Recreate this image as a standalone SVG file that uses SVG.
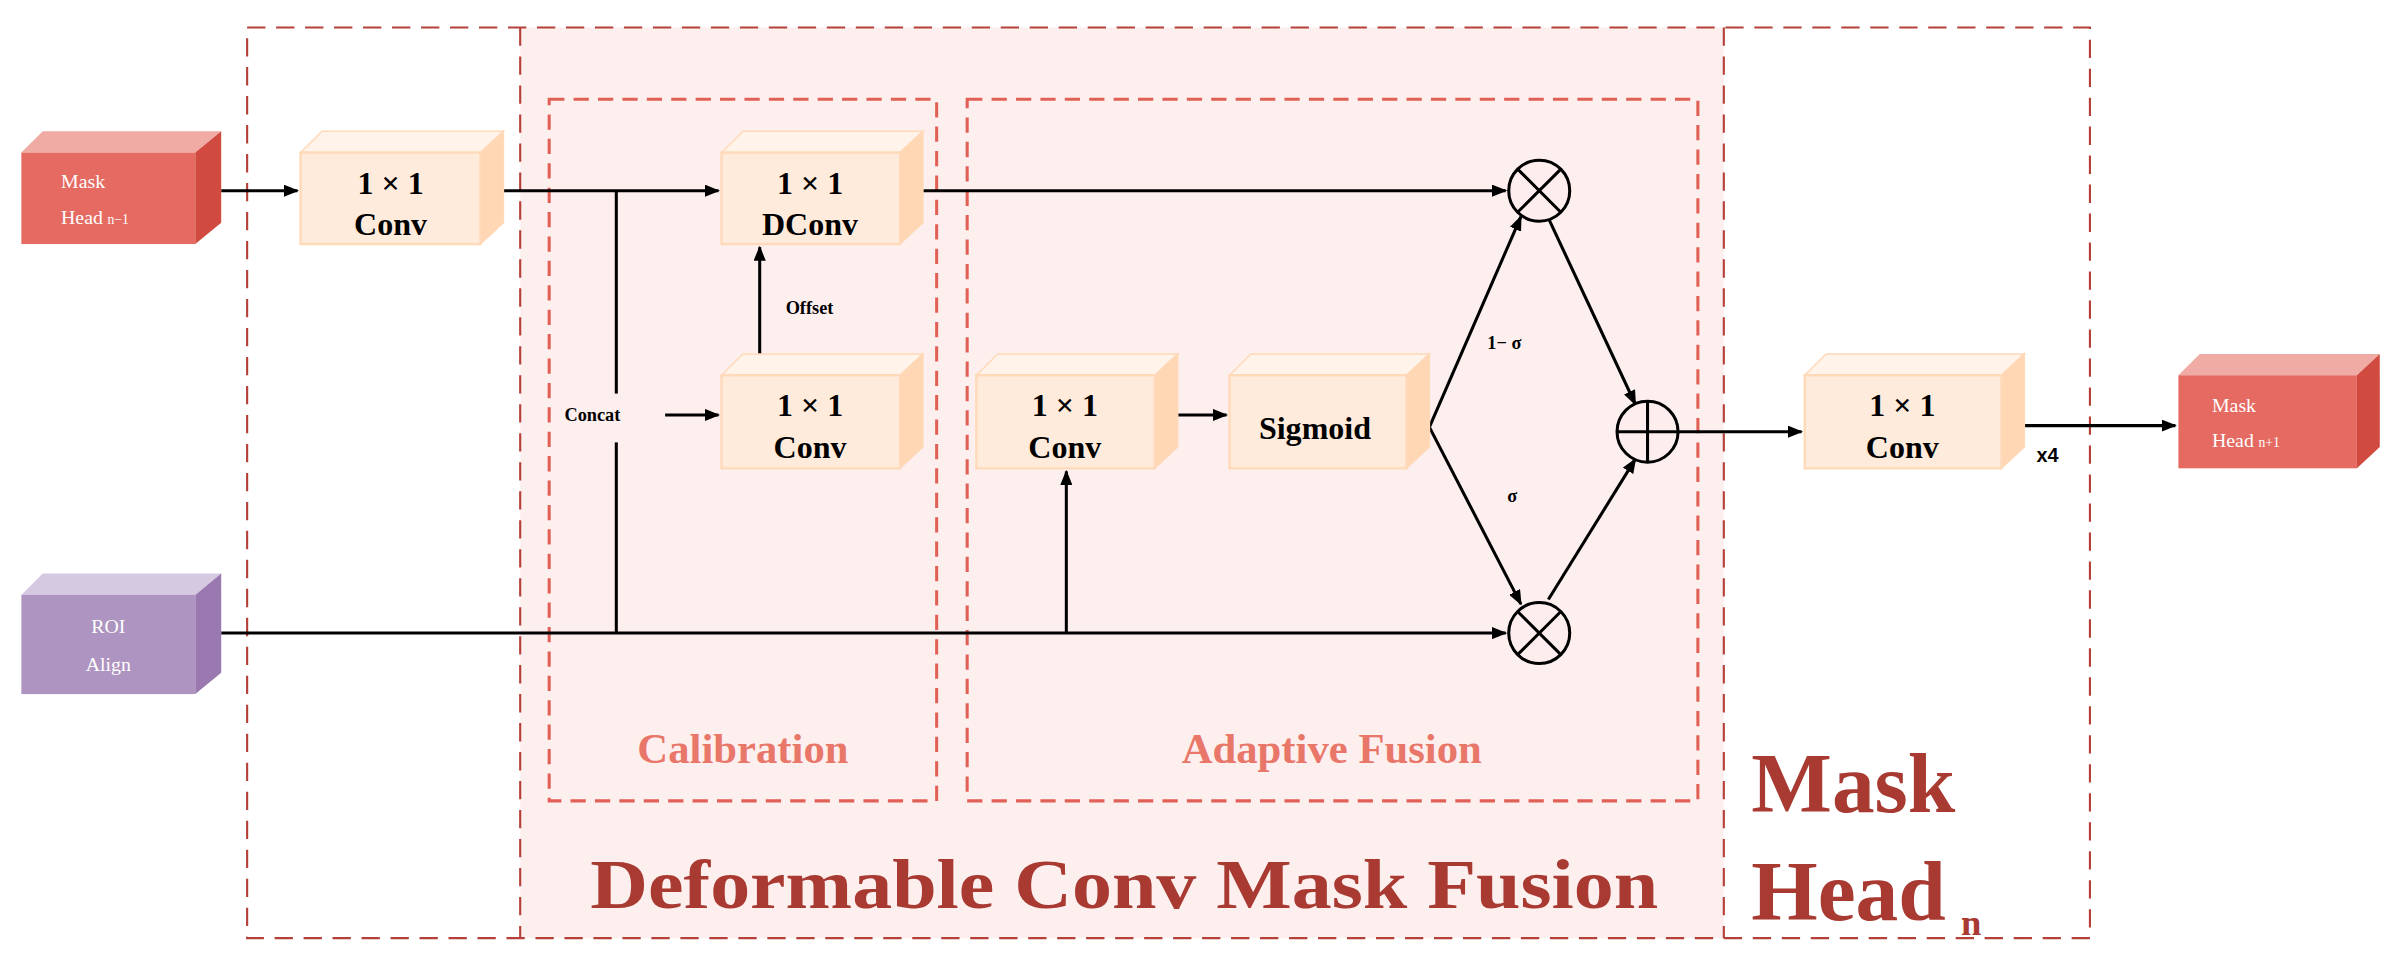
<svg xmlns="http://www.w3.org/2000/svg" width="2392" height="969" viewBox="0 0 2392 969">
<style>
.cf{fill:#FFEBDB;stroke:#FFD9B8;stroke-width:1.5}
.ct{fill:#FFF3EA;stroke:#FFD9B8;stroke-width:1}
.cr{fill:#FFD7B5;stroke:#FFD9B8;stroke-width:1}
.mf{fill:#E46A62}.mt{fill:#F0ABA5}.mr{fill:#D04A3F}
.rf{fill:#AE94C0}.rt{fill:#D5C8E1}.rr{fill:#9A78B0}
.bt{font-family:"Liberation Serif",serif;font-weight:bold;font-size:21px;fill:#000;text-anchor:middle}
.wt{font-family:"Liberation Serif",serif;font-size:13px;fill:#fff}
.sm{font-family:"Liberation Serif",serif;font-weight:bold;font-size:12px;fill:#000}
.od{fill:none;stroke:#B5403A;stroke-width:1.4;stroke-dasharray:12 7}
.id{fill:none;stroke:#E06055;stroke-width:2;stroke-dasharray:10 6}
.ln{fill:none;stroke:#000;stroke-width:2}
.cir{fill:#FDEDED;stroke:#000;stroke-width:2}
</style>
<defs>
<marker id="ah" markerWidth="10" markerHeight="8" refX="9" refY="4" orient="auto" markerUnits="userSpaceOnUse"><path d="M0,0 L10,4 L0,8 Z" fill="#000"/></marker>
</defs>
<g transform="scale(1.5255)">
<rect x="0" y="0" width="1568" height="636" fill="#fff"/>
<rect x="341" y="18" width="789" height="597" fill="#FEEFEF"/>
<g id="frames">
<rect class="od" x="162" y="18" width="1208" height="597"/>
<line class="od" x1="341" y1="18" x2="341" y2="615"/>
<line class="od" x1="1130" y1="18" x2="1130" y2="615"/>
<rect class="id" x="360" y="65" width="254" height="460"/>
<rect class="id" x="634" y="65" width="479" height="460"/>
<text x="487" y="500" text-anchor="middle" font-family="Liberation Serif,serif" font-weight="bold" font-size="28" fill="#E8776A">Calibration</text>
<text x="873" y="500" text-anchor="middle" font-family="Liberation Serif,serif" font-weight="bold" font-size="28" fill="#E8776A">Adaptive Fusion</text>
<text x="387" y="595" textLength="700" lengthAdjust="spacingAndGlyphs" font-family="Liberation Serif,serif" font-weight="bold" font-size="46" fill="#A83A32">Deformable Conv Mask Fusion</text>
<text x="1148" y="532" font-family="Liberation Serif,serif" font-weight="bold" font-size="56" fill="#A83A32">Mask</text>
<text x="1148" y="603" font-family="Liberation Serif,serif" font-weight="bold" font-size="56" fill="#A83A32">Head<tspan font-size="24" dx="10" dy="10">n</tspan></text>
</g>
<g id="connectors">
<line class="ln" x1="145" y1="125" x2="195" y2="125" marker-end="url(#ah)"/>
<line class="ln" x1="330" y1="125" x2="471" y2="125" marker-end="url(#ah)"/>
<line class="ln" x1="605" y1="125" x2="987" y2="125" marker-end="url(#ah)"/>
<line class="ln" x1="404" y1="125" x2="404" y2="258"/>
<line class="ln" x1="404" y1="290" x2="404" y2="415"/>
<line class="ln" x1="145" y1="415" x2="987" y2="415" marker-end="url(#ah)"/>
<line class="ln" x1="699" y1="415" x2="699" y2="309" marker-end="url(#ah)"/>
<line class="ln" x1="436" y1="272" x2="471" y2="272" marker-end="url(#ah)"/>
<line class="ln" x1="498" y1="232" x2="498" y2="162" marker-end="url(#ah)"/>
<line class="ln" x1="772" y1="272" x2="804" y2="272" marker-end="url(#ah)"/>
<line class="ln" x1="937" y1="280" x2="997" y2="142" marker-end="url(#ah)"/>
<line class="ln" x1="937" y1="280" x2="997" y2="396" marker-end="url(#ah)"/>
<line class="ln" x1="1015" y1="143" x2="1072" y2="265" marker-end="url(#ah)"/>
<line class="ln" x1="1015" y1="393" x2="1072" y2="301" marker-end="url(#ah)"/>
<line class="ln" x1="1100" y1="283" x2="1181" y2="283" marker-end="url(#ah)"/>
<line class="ln" x1="1327" y1="279" x2="1426" y2="279" marker-end="url(#ah)"/>
<text class="sm" x="370" y="276">Concat</text>
<text class="sm" x="515" y="206">Offset</text>
<text class="sm" x="975" y="229">1− σ</text>
<text class="sm" x="988" y="329">σ</text>
<text x="1335" y="303" font-family="Liberation Sans,sans-serif" font-weight="bold" font-size="13" fill="#000">x4</text>
</g>
<g id="maskhead_prev">
<polygon class="mt" points="14,100 28,86 145,86 128,100"/>
<polygon class="mr" points="128,100 145,86 145,146 128,160"/>
<rect class="mf" x="14" y="100" width="114" height="60"/>
<text class="wt" x="40" y="123">Mask</text>
<text class="wt" x="40" y="147">Head<tspan font-size="9" dx="3">n−1</tspan></text>
</g>
<g id="roi">
<polygon class="rt" points="14,390 28,376 145,376 128,390"/>
<polygon class="rr" points="128,390 145,376 145,441 128,455"/>
<rect class="rf" x="14" y="390" width="114" height="65"/>
<text class="wt" x="71" y="415" text-anchor="middle">ROI</text>
<text class="wt" x="71" y="440" text-anchor="middle">Align</text>
</g>
<g id="conv1">
<polygon class="ct" points="197,100 211,86 330,86 315,100"/>
<polygon class="cr" points="315,100 330,86 330,146 315,160"/>
<rect class="cf" x="197" y="100" width="118" height="60"/>
<text class="bt" x="256" y="127">1 × 1</text><text class="bt" x="256" y="154">Conv</text>
</g>
<g id="dconv">
<polygon class="ct" points="473,100 487,86 605,86 590,100"/>
<polygon class="cr" points="590,100 605,86 605,146 590,160"/>
<rect class="cf" x="473" y="100" width="117" height="60"/>
<text class="bt" x="531" y="127">1 × 1</text><text class="bt" x="531" y="154">DConv</text>
</g>
<g id="conv2">
<polygon class="ct" points="473,246 487,232 605,232 590,246"/>
<polygon class="cr" points="590,246 605,232 605,293 590,307"/>
<rect class="cf" x="473" y="246" width="117" height="61"/>
<text class="bt" x="531" y="273">1 × 1</text><text class="bt" x="531" y="300">Conv</text>
</g>
<g id="conv3">
<polygon class="ct" points="640,246 654,232 772,232 757,246"/>
<polygon class="cr" points="757,246 772,232 772,293 757,307"/>
<rect class="cf" x="640" y="246" width="117" height="61"/>
<text class="bt" x="698" y="273">1 × 1</text><text class="bt" x="698" y="300">Conv</text>
</g>
<g id="sigmoid">
<polygon class="ct" points="806,246 820,232 937,232 922,246"/>
<polygon class="cr" points="922,246 937,232 937,293 922,307"/>
<rect class="cf" x="806" y="246" width="116" height="61"/>
<text class="bt" x="862" y="288">Sigmoid</text>
</g>
<g id="mul_top"><circle class="cir" cx="1009" cy="125" r="20"/><path class="ln" d="M995,111 L1023,139 M1023,111 L995,139"/></g>
<g id="mul_bot"><circle class="cir" cx="1009" cy="415" r="20"/><path class="ln" d="M995,401 L1023,429 M1023,401 L995,429"/></g>
<g id="add"><circle class="cir" cx="1080" cy="283" r="20"/><path class="ln" d="M1060,283 L1100,283 M1080,263 L1080,303"/></g>
<g id="conv4">
<polygon class="ct" points="1183,246 1197,232 1327,232 1312,246"/>
<polygon class="cr" points="1312,246 1327,232 1327,293 1312,307"/>
<rect class="cf" x="1183" y="246" width="129" height="61"/>
<text class="bt" x="1247" y="273">1 × 1</text><text class="bt" x="1247" y="300">Conv</text>
</g>
<g id="maskhead_next">
<polygon class="mt" points="1428,246 1442,232 1560,232 1545,246"/>
<polygon class="mr" points="1545,246 1560,232 1560,293 1545,307"/>
<rect class="mf" x="1428" y="246" width="117" height="61"/>
<text class="wt" x="1450" y="270">Mask</text>
<text class="wt" x="1450" y="293">Head<tspan font-size="9" dx="3">n+1</tspan></text>
</g>
</g>
</svg>
